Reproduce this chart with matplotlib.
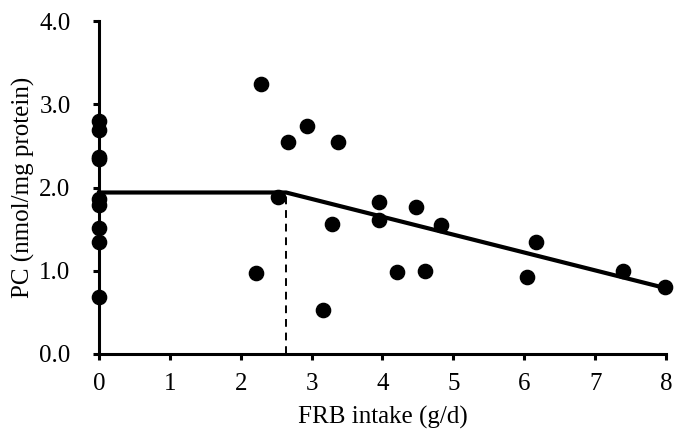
import matplotlib
matplotlib.use("Agg")
import matplotlib.pyplot as plt

# FRB intake (g/d) and PC (nmol/mg protein)
frb = [0, 0, 0, 0, 0, 0, 0, 0, 0,
       2.28, 2.22, 2.53, 2.67, 2.94, 3.37, 3.29, 3.16, 3.95, 3.95,
       4.20, 4.47, 4.60, 4.83, 6.04, 6.16, 7.40, 7.98]
pc = [2.80, 2.69, 2.37, 2.34, 1.86, 1.79, 1.51, 1.34, 0.69,
      3.24, 0.97, 1.89, 2.55, 2.74, 2.55, 1.56, 0.53, 1.83, 1.61,
      0.98, 1.77, 1.00, 1.55, 0.93, 1.35, 1.00, 0.80]

# segmented fit
fit_x = [0, 2.64, 8]
fit_y = [1.94, 1.94, 0.79]
breakpoint = 2.64

plt.rcParams['font.family'] = ['Liberation Serif', 'DejaVu Serif']

fig = plt.figure(figsize=(6.84, 4.45), dpi=100)
ax = fig.add_axes([0.1447, 0.2045, 0.829, 0.7483])

ax.scatter(frb, pc, s=105, color='black', zorder=3, clip_on=False)
ax.plot(fit_x, fit_y, color='black', linewidth=3, zorder=2, clip_on=False)
ax.plot([breakpoint, breakpoint], [0, fit_y[1]], color='black',
        linewidth=1.4, linestyle=(0, (4, 3)), zorder=2)

ax.set_xlim(0, 8)
ax.set_ylim(0, 4)
ax.set_xticks(range(0, 9))
ax.set_yticks([0, 1, 2, 3, 4])
ax.set_yticklabels(['0.0', '1.0', '2.0', '3.0', '4.0'])

for side in ['top', 'right']:
    ax.spines[side].set_visible(False)
for side in ['left', 'bottom']:
    ax.spines[side].set_linewidth(2.2)

ax.tick_params(axis='both', direction='out', length=4.5, width=2.2, labelsize=18)
ax.tick_params(axis='x', pad=9)
ax.tick_params(axis='y', pad=16)

ax.set_xlabel('FRB intake (g/d)', fontsize=18, labelpad=8)
ax.set_ylabel('PC (nmol/mg protein)', fontsize=18, labelpad=3)

plt.savefig('out.png', dpi=100, facecolor='white')
